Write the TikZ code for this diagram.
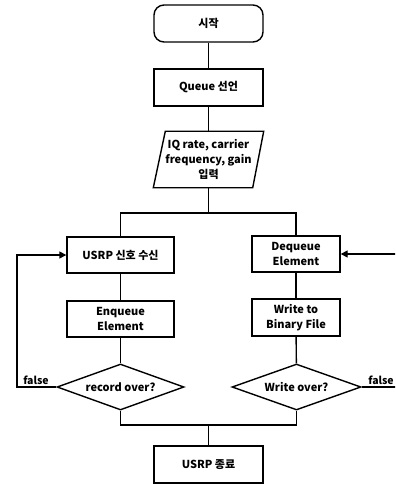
\documentclass[tikz,border=0pt]{standalone}
\usepackage{fontspec}
\setmainfont{Noto Sans CJK KR}
\usetikzlibrary{shapes.geometric,arrows.meta}
\begin{document}
\begin{tikzpicture}[x=1bp,y=-1bp,
  line width=1.4bp,
  every node/.style={font=\fontsize{11bp}{15bp}\selectfont\bfseries, align=center, inner sep=0pt},
  box/.style={draw, rectangle, minimum width=#1, minimum height=37bp},
  box/.default=109bp,
  arr/.style={-{Triangle[length=7bp,width=7bp]}},
  dec/.style={draw, diamond, aspect=2.8, minimum width=#1, minimum height=46bp},
  lab/.style={font=\fontsize{10.5bp}{12bp}\selectfont\bfseries}
]
\path[use as bounding box] (0,0) rectangle (395,484);
\clip (0,0) rectangle (395,484);
\node[box, rounded corners=10bp] (start) at (208.5,23.5) {시작};
\node[box] (queue) at (208.5,87.5) {Queue 선언};
\node[minimum width=109bp, minimum height=55bp] (input) at (208.5,159.5) {IQ rate, carrier\\frequency, gain\\입력};
\draw (input.south west) -- ([xshift=-11bp]input.south east) -- (input.north east) -- ([xshift=12bp]input.north west) -- cycle;
\coordinate (j1) at (208.5,213);
\node[box=107bp, minimum height=36bp] (recv) at (120.5,255) {USRP 신호 수신};
\node[box=88bp, minimum height=36bp] (deq) at (296,254) {Dequeue\\Element};
\node[box=107bp, minimum height=36bp] (enq) at (120.5,319) {Enqueue\\Element};
\node[box=88bp] (write) at (296,317.5) {Write to\\Binary File};
\node[dec=127bp] (d1) at (120.5,387) {record over?};
\node[dec=129bp] (d2) at (296.5,387) {Write over?};
\coordinate (j2) at (208.5,425);
\node[box] (end) at (208.5,464.5) {USRP 종료};
\coordinate (lx) at (17,387);
\coordinate (rx) at (402,387);
\draw (start) -- (queue);
\draw (queue) -- (input);
\draw (input) -- (j1);
\draw (recv.north) |- (j1) -| (deq.north);
\draw (recv) -- (enq);
\draw (deq) -- (write);
\draw (enq) -- (d1);
\draw (write) -- (d2);
\draw (d1.south) |- (j2) -| (d2.south);
\draw (j2) -- (end);
\draw[arr] (d1.west) -- (lx) |- (recv.west);
\draw[arr] (d2.east) -- (rx) |- (deq.east);
\node[lab, anchor=south] (f1) at (36,385) {false};
\node[lab, anchor=south] (f2) at (381,385) {false};
\end{tikzpicture}
\end{document}
